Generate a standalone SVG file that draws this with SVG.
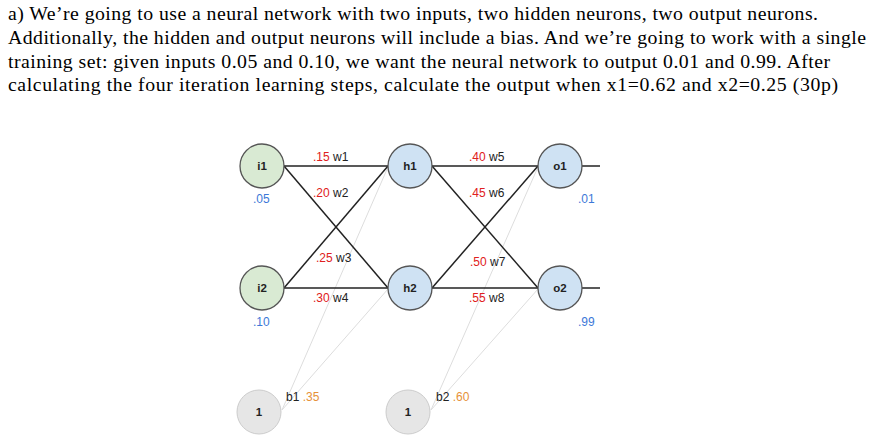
<svg xmlns="http://www.w3.org/2000/svg" width="889" height="447" viewBox="0 0 889 447">
<style>
.t{font-family:"Liberation Serif",serif;font-size:19.8px;fill:#000}
.n{stroke:#555;stroke-width:1.3}
.in{fill:#d9ead3}.hd{fill:#cfe2f3}.bs{fill:#e6e6e6;stroke:#ccc}
.nl{font-family:"Liberation Sans",Arial,sans-serif;font-size:11.5px;font-weight:bold;text-anchor:middle;fill:#222}
.l{font-family:"Liberation Sans",Arial,sans-serif;font-size:12px;fill:#222}
.r{fill:#e02020}.b{fill:#3c78d8}.o{fill:#e69138}
.e{stroke:#222;stroke-width:1.5}.g{stroke:#ddd;stroke-width:1}
</style>
<rect width="889" height="447" fill="#fff"/>
<text class="t" x="8" y="20" textLength="810">a) We’re going to use a neural network with two inputs, two hidden neurons, two output neurons.</text>
<text class="t" x="8" y="44" textLength="858">Additionally, the hidden and output neurons will include a bias. And we’re going to work with a single</text>
<text class="t" x="8" y="68" textLength="822">training set: given inputs 0.05 and 0.10, we want the neural network to output 0.01 and 0.99. After</text>
<text class="t" x="8" y="91" textLength="830">calculating the four iteration learning steps, calculate the output when x1=0.62 and x2=0.25 (30p)</text>
<g id="connectors">
<line class="g" x1="282" y1="410" x2="388" y2="167"/>
<line class="g" x1="282" y1="410" x2="388" y2="289"/>
<line class="g" x1="431" y1="410" x2="538" y2="167"/>
<line class="g" x1="431" y1="410" x2="538" y2="289"/>
<line class="e" x1="284" y1="166" x2="388" y2="166"/>
<line class="e" x1="284" y1="166" x2="388" y2="288"/>
<line class="e" x1="284" y1="288" x2="388" y2="166"/>
<line class="e" x1="284" y1="288" x2="388" y2="288"/>
<line class="e" x1="432" y1="166" x2="538" y2="166"/>
<line class="e" x1="432" y1="166" x2="538" y2="288"/>
<line class="e" x1="432" y1="288" x2="538" y2="166"/>
<line class="e" x1="432" y1="288" x2="538" y2="288"/>
<line class="e" x1="582" y1="166" x2="600" y2="166"/>
<line class="e" x1="582" y1="288" x2="600" y2="288"/>
</g>
<g id="i1"><circle class="n in" cx="262" cy="166" r="22"/><text class="nl" x="262" y="170">i1</text></g>
<g id="i2"><circle class="n in" cx="262" cy="288" r="22"/><text class="nl" x="262" y="292">i2</text></g>
<g id="h1"><circle class="n hd" cx="410" cy="166" r="22"/><text class="nl" x="410" y="170">h1</text></g>
<g id="h2"><circle class="n hd" cx="410" cy="288" r="22"/><text class="nl" x="410" y="292">h2</text></g>
<g id="o1"><circle class="n hd" cx="560" cy="166" r="22"/><text class="nl" x="560" y="170">o1</text></g>
<g id="o2"><circle class="n hd" cx="560" cy="288" r="22"/><text class="nl" x="560" y="292">o2</text></g>
<g id="b1"><circle class="bs" cx="259" cy="412" r="22"/><text class="nl" x="259" y="416">1</text></g>
<g id="b2"><circle class="bs" cx="408" cy="412" r="22"/><text class="nl" x="408" y="416">1</text></g>
<g id="labels">
<text class="l" x="313" y="161"><tspan class="r">.15</tspan> w1</text>
<text class="l" x="313" y="197"><tspan class="r">.20</tspan> w2</text>
<text class="l" x="316" y="262"><tspan class="r">.25</tspan> w3</text>
<text class="l" x="313" y="302"><tspan class="r">.30</tspan> w4</text>
<text class="l" x="469" y="161"><tspan class="r">.40</tspan> w5</text>
<text class="l" x="469" y="197"><tspan class="r">.45</tspan> w6</text>
<text class="l" x="470" y="266"><tspan class="r">.50</tspan> w7</text>
<text class="l" x="469" y="302"><tspan class="r">.55</tspan> w8</text>
<text class="l" x="286" y="401">b1 <tspan class="o">.35</tspan></text>
<text class="l" x="436" y="401">b2 <tspan class="o">.60</tspan></text>
<text class="l b" x="253" y="203">.05</text>
<text class="l b" x="253" y="326">.10</text>
<text class="l b" x="578" y="203">.01</text>
<text class="l b" x="578" y="326">.99</text>
</g>
</svg>
